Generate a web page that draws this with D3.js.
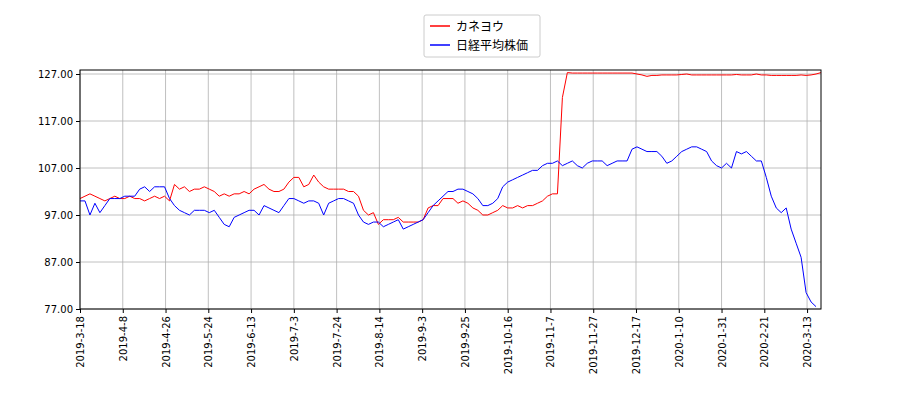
<!DOCTYPE html>
<html><head><meta charset="utf-8">
<script src="https://cdn.jsdelivr.net/npm/d3@7"></script>
<style>body{margin:0;background:#fff}</style></head>
<body><svg id="c" width="900" height="400"></svg>
<script>
const tickLabels=["2019-3-18","2019-4-8","2019-4-26","2019-5-24","2019-6-13","2019-7-3","2019-7-24","2019-8-14","2019-9-3","2019-9-25","2019-10-16","2019-11-7","2019-11-27","2019-12-17","2020-1-10","2020-1-31","2020-2-21","2020-3-13"];
const tickIdx=[0,8.6,17.2,25.8,34.4,43,51.6,60.2,68.8,77.4,86,94.6,103.2,111.8,120.4,129,137.6,146.2];
const yTicks=[77,87,97,107,117,127];
const seriesNames=["カネヨウ","日経平均株価"];
const red=[100.5,101,101.5,101,100.5,100,100.5,101,100.5,100.5,101,100.5,100.5,100,100.5,101,100.5,101,100,103.5,102.5,103,102,102.5,102.5,103,102.5,102,101,101.5,101,101.5,101.5,102,101.5,102.5,103,103.5,102.5,102,102,102.5,104,105,105,103,103.5,105.5,104,103,102.5,102.5,102.5,102.5,102,102,101,98,97,97.5,95,96,96,96,96.5,95.5,95.5,95.5,95.5,96,98.5,99,99,100.5,100.5,100.5,99.5,100,99.5,98.5,98,97,97,97.5,98,99,98.5,98.5,99,98.5,99,99,99.5,100,101,101.5,101.5,122,127.3,127.2,127.2,127.2,127.2,127.2,127.2,127.2,127.2,127.2,127.2,127.2,127.2,127.2,127,126.8,126.5,126.7,126.7,126.8,126.8,126.8,126.8,126.9,127,126.8,126.8,126.8,126.8,126.8,126.8,126.8,126.8,126.8,126.9,126.8,126.8,126.8,127,126.8,126.8,126.7,126.7,126.7,126.7,126.7,126.7,126.8,126.7,126.8,127,127.3];
const blue=[100,100,97,99.5,97.5,99,100.5,100.5,100.5,101,101,101,102.5,103,102,103,103,103,100.5,99,98,97.5,97,98,98,98,97.5,98,96.5,95,94.5,96.5,97,97.5,98,98,97,99,98.5,98,97.5,99,100.5,100.5,100,99.5,100,100,99.5,97,99.5,100,100.5,100.5,100,99.5,97,95.5,95,95.5,95.5,94.5,95,95.5,96,94,94.5,95,95.5,96,97.5,99,100,101,102,102,102.5,102.5,102,101.5,100.5,99,99,99.5,100.5,103,104,104.5,105,105.5,106,106.5,106.5,107.5,108,108,108.5,107.5,108,108.5,107.5,107,108,108.5,108.5,108.5,107.5,108,108.5,108.5,108.5,111,111.5,111,110.5,110.5,110.5,109.5,108,108.5,109.5,110.5,111,111.5,111.5,111,110.5,108.5,107.5,107,108,107,110.5,110,110.5,109.5,108.5,108.5,105,101,98.5,97.5,98.5,94,91,88,80.5,78.5,77.5];
const svg=d3.select("#c");
const n=Math.max(red.length,blue.length);
const x=d3.scaleLinear().domain([0,n-1]).range([80,821]);
const y=d3.scaleLinear().domain([77,127]).range([309,74]);
const pTop=70,pBot=309;
svg.append("g").selectAll("line").data(tickIdx).join("line")
 .attr("x1",d=>x(d)).attr("x2",d=>x(d)).attr("y1",pTop).attr("y2",pBot).attr("stroke","#b0b0b0").attr("stroke-width",0.8);
svg.append("g").selectAll("line").data(yTicks).join("line")
 .attr("x1",80).attr("x2",821).attr("y1",d=>y(d)).attr("y2",d=>y(d)).attr("stroke","#b0b0b0").attr("stroke-width",0.8);
const ya=svg.append("g").attr("transform","translate(80,0)").call(d3.axisLeft(y).tickValues(yTicks).tickFormat(d3.format(".2f")).tickSize(4));
ya.select(".domain").remove();
ya.selectAll("text").attr("font-family","DejaVu Sans").attr("font-size",10).attr("fill","#000");
const xa=svg.append("g").attr("transform",`translate(0,${pBot})`).call(d3.axisBottom(x).tickValues(tickIdx).tickFormat((d,i)=>tickLabels[i]).tickSize(4));
xa.select(".domain").remove();
xa.selectAll("text").attr("font-family","DejaVu Sans").attr("font-size",10).attr("fill","#000")
 .attr("transform","rotate(-90)").attr("text-anchor","end").attr("x",-7).attr("y",0).attr("dy","0.35em");
const line=d3.line().x((d,i)=>x(i)).y(d=>y(d));
svg.append("path").datum(red).attr("d",line).attr("fill","none").attr("stroke","#ff0000").attr("stroke-width",1);
svg.append("path").datum(blue).attr("d",line).attr("fill","none").attr("stroke","#0000ff").attr("stroke-width",1);
svg.append("rect").attr("x",80).attr("y",pTop).attr("width",741).attr("height",pBot-pTop).attr("fill","none").attr("stroke","#000").attr("stroke-width",1);
const lg=svg.append("g");
lg.append("rect").attr("x",424).attr("y",15).attr("width",116).attr("height",42).attr("fill","#fff").attr("stroke","#ccc").attr("rx",2);
const cols=["#ff0000","#0000ff"];
seriesNames.forEach((s,i)=>{
 const yy=26+i*19;
 lg.append("line").attr("x1",430).attr("x2",450).attr("y1",yy).attr("y2",yy).attr("stroke",cols[i]).attr("stroke-width",1.5);
 lg.append("text").attr("x",456).attr("y",yy+4.5).text(s).attr("font-family","Noto Sans CJK JP").attr("font-size",12);
});
</script></body></html>
